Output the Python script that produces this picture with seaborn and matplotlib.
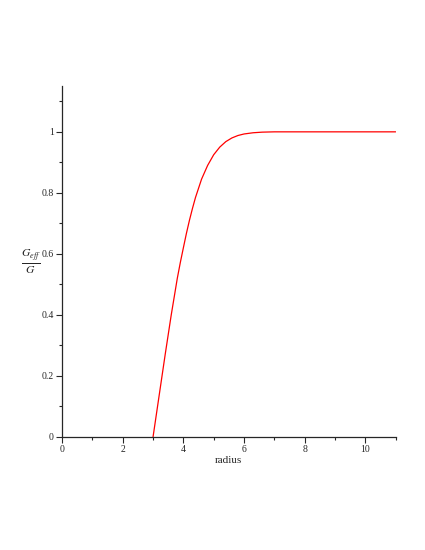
import seaborn as sns
import matplotlib.pyplot as plt
import pandas as pd
from matplotlib.ticker import MultipleLocator, FuncFormatter

radius = [3.0, 3.2, 3.4, 3.6, 3.7, 3.8, 3.9, 4.0, 4.1, 4.2, 4.3, 4.4, 4.6, 4.8,
          5.0, 5.2, 5.4, 5.6, 5.8, 6.0, 6.3, 6.6, 7.0, 8.0, 11.0]
g_ratio = [0.0, 0.135, 0.27, 0.40, 0.46, 0.52, 0.572, 0.62, 0.667, 0.71, 0.749,
           0.785, 0.845, 0.89, 0.925, 0.95, 0.968, 0.98, 0.988, 0.993, 0.997,
           0.999, 1.0, 1.0, 1.0]

df = pd.DataFrame({"radius": radius, "g": g_ratio})

sns.set_style("ticks")
plt.rcParams["font.family"] = ["Liberation Serif", "DejaVu Serif"]
plt.rcParams["mathtext.fontset"] = "stix"

fig = plt.figure(figsize=(4.25, 5.5), dpi=100)
ax = fig.add_axes([0.146, 0.2055, 0.785, 0.638])

sns.lineplot(x="radius", y="g", data=df, color="red", linewidth=0.9, ax=ax)

ax.set_xlim(0, 11)
ax.set_ylim(0, 1.15)
ax.xaxis.set_major_locator(MultipleLocator(2))
ax.xaxis.set_minor_locator(MultipleLocator(1))
ax.yaxis.set_major_locator(MultipleLocator(0.2))
ax.yaxis.set_minor_locator(MultipleLocator(0.1))
ax.yaxis.set_major_formatter(FuncFormatter(lambda v, p: "%g" % round(v, 2)))
ax.tick_params(axis="both", which="major", length=4, width=0.8, labelsize=7, pad=2)
ax.tick_params(axis="both", which="minor", length=2.5, width=0.8)

sns.despine(ax=ax)
ax.spines["left"].set_linewidth(0.9)
ax.spines["bottom"].set_linewidth(0.9)

ax.set_xlabel("radius", fontsize=8, labelpad=1)
ax.set_ylabel(r"$\frac{G_{eff}}{G}$", fontsize=12, rotation=0, va="center", ha="center")
ax.yaxis.set_label_coords(-0.092, 0.5)

fig.savefig("out.png", dpi=100)
